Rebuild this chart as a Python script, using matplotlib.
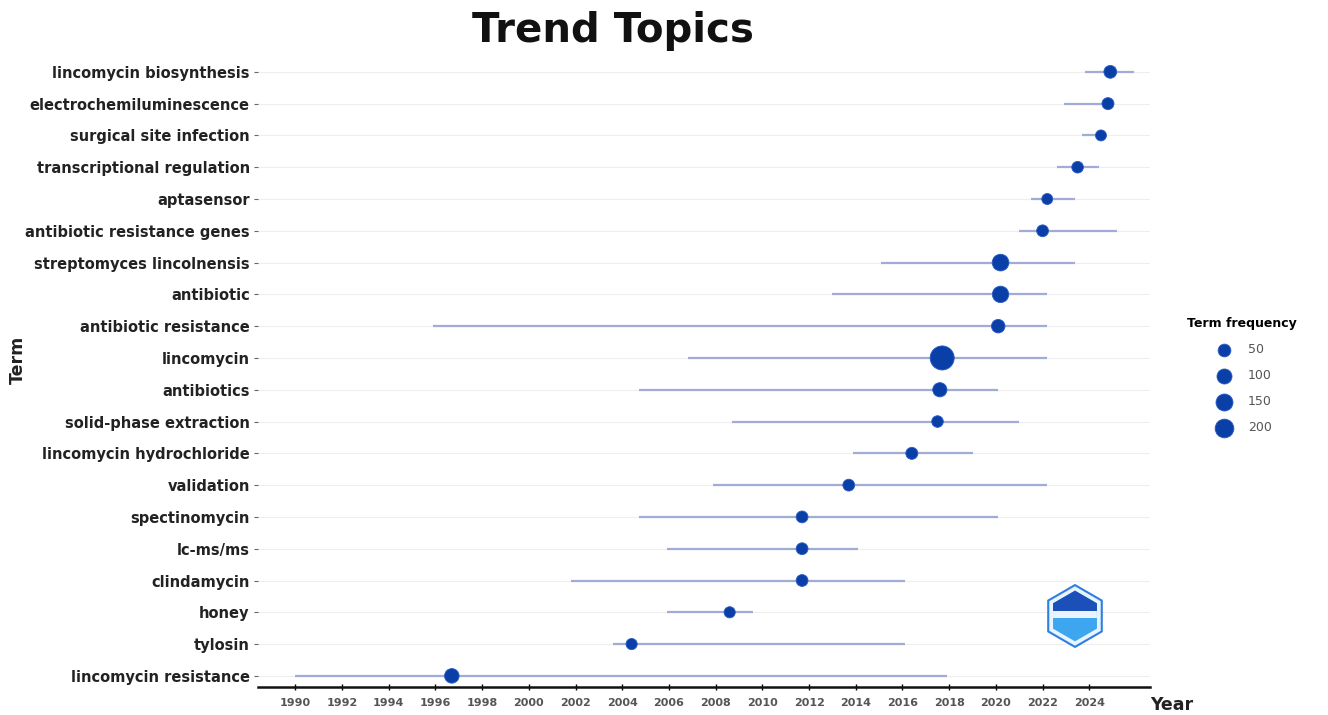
import numpy as np
import matplotlib.pyplot as plt
from matplotlib.patches import RegularPolygon, Rectangle

# terms listed bottom -> top
terms = ["lincomycin resistance", "tylosin", "honey", "clindamycin", "lc-ms/ms",
         "spectinomycin", "validation", "lincomycin hydrochloride",
         "solid-phase extraction", "antibiotics", "lincomycin",
         "antibiotic resistance", "antibiotic", "streptomyces lincolnensis",
         "antibiotic resistance genes", "aptasensor", "transcriptional regulation",
         "surgical site infection", "electrochemiluminescence",
         "lincomycin biosynthesis"]
year_med = [1996.7, 2004.4, 2008.6, 2011.7, 2011.7, 2011.7, 2013.7, 2016.4,
            2017.5, 2017.6, 2017.7, 2020.1, 2020.2, 2020.2,
            2022.0, 2022.2, 2023.5, 2024.5, 2024.8, 2024.9]
year_q1 = [1990.0, 2003.6, 2005.9, 2001.8, 2005.9, 2004.7, 2007.9, 2013.9,
           2008.7, 2004.7, 2006.8, 1995.9, 2013.0, 2015.1,
           2021.0, 2021.5, 2022.6, 2023.7, 2022.9, 2023.8]
year_q3 = [2017.9, 2016.1, 2009.6, 2016.1, 2014.1, 2020.1, 2022.2, 2019.0,
           2021.0, 2020.1, 2022.2, 2022.2, 2022.2, 2023.4,
           2025.2, 2023.4, 2024.4, 2024.5, 2024.8, 2025.9]
freq = [140, 50, 50, 65, 65, 65, 65, 70, 60, 130, 520, 110, 200, 210,
        65, 45, 60, 45, 70, 90]

legend_breaks = [50, 100, 150, 200]
x_ticks = list(range(1990, 2025, 2))

dot_col = "#0b3fa8"
seg_col = "#a0acd6"


def msize(f):
    return 40 + 0.5 * np.asarray(f)


fig = plt.figure(figsize=(13.28, 7.15), dpi=100)
W, H = 1328, 715
ax = fig.add_axes([258 / W, (H - 687) / H, (1150 - 258) / W, (687 - 55) / H])

rows = np.arange(1, len(terms) + 1)
for r in rows:
    ax.axhline(r, color="#eeeeee", lw=0.8, zorder=0)

ax.hlines(rows, year_q1, year_q3, color=seg_col, lw=1.6, zorder=1)
ax.scatter(year_med, rows, s=msize(freq), color=dot_col, edgecolor="#2a5cc4",
           linewidth=0.6, zorder=3)

ax.set_xlim(1988.4, 2026.6)
ax.set_ylim(0.65, 20.53)
ax.set_yticks(rows)
ax.set_yticklabels(terms, fontsize=10.5, fontweight="bold", color="#222222")
ax.set_xticks(x_ticks)
ax.set_xticklabels([str(x) for x in x_ticks], fontsize=8, fontweight="bold",
                   color="#555555")

for s in ["top", "right", "left"]:
    ax.spines[s].set_visible(False)
ax.spines["bottom"].set_linewidth(1.8)
ax.spines["bottom"].set_color("#111111")
ax.tick_params(axis="y", length=3, color="#666666", pad=3)
ax.tick_params(axis="x", length=4, direction="inout", width=1, pad=6)

fig.text(613 / W, 1 - 31 / H, "Trend Topics", fontsize=29, fontweight="bold",
         ha="center", va="center", color="#111111")
fig.text(1172 / W, 1 - 705 / H, "Year", fontsize=12.5, fontweight="bold",
         ha="center", va="center", color="#222222")
fig.text(18 / W, 1 - 360 / H, "Term", fontsize=12.5, fontweight="bold",
         ha="center", va="center", rotation=90, color="#222222")

handles = [ax.scatter([], [], s=msize(b) * 1.3, color=dot_col, edgecolor="#2a5cc4",
                      linewidth=0.6) for b in legend_breaks]
leg = fig.legend(handles, [str(b) for b in legend_breaks], title="Term frequency",
                 loc="upper left", bbox_to_anchor=(1182 / W, 1 - 312 / H),
                 frameon=False, fontsize=9, labelspacing=1.05, handletextpad=0.9,
                 borderaxespad=0)
leg.get_title().set_fontweight("bold")
leg.get_title().set_fontsize(9)
for t in leg.get_texts():
    t.set_color("#555555")

# small logo in the bottom right corner
lax = fig.add_axes([1040 / W, (H - 650) / H, 70 / W, 68 / H])
lax.set_xlim(-1.1, 1.1)
lax.set_ylim(-1.1, 1.1)
lax.set_aspect("equal")
lax.axis("off")
outer = RegularPolygon((0, 0), 6, radius=1.0, facecolor="#e8f4ff",
                       edgecolor="#2f7fe0", lw=1.5)
lax.add_patch(outer)
inner = RegularPolygon((0, 0), 6, radius=0.82, facecolor="#3ea6ef",
                       edgecolor="none")
lax.add_patch(inner)
top = Rectangle((-1, 0.05), 2, 1, facecolor="#1c4fb8", edgecolor="none")
lax.add_patch(top)
top.set_clip_path(inner)
band = Rectangle((-1, -0.05), 2, 0.22, facecolor="#e8f4ff", edgecolor="none")
lax.add_patch(band)
band.set_clip_path(inner)

fig.savefig("out.png", dpi=100, facecolor="white")
